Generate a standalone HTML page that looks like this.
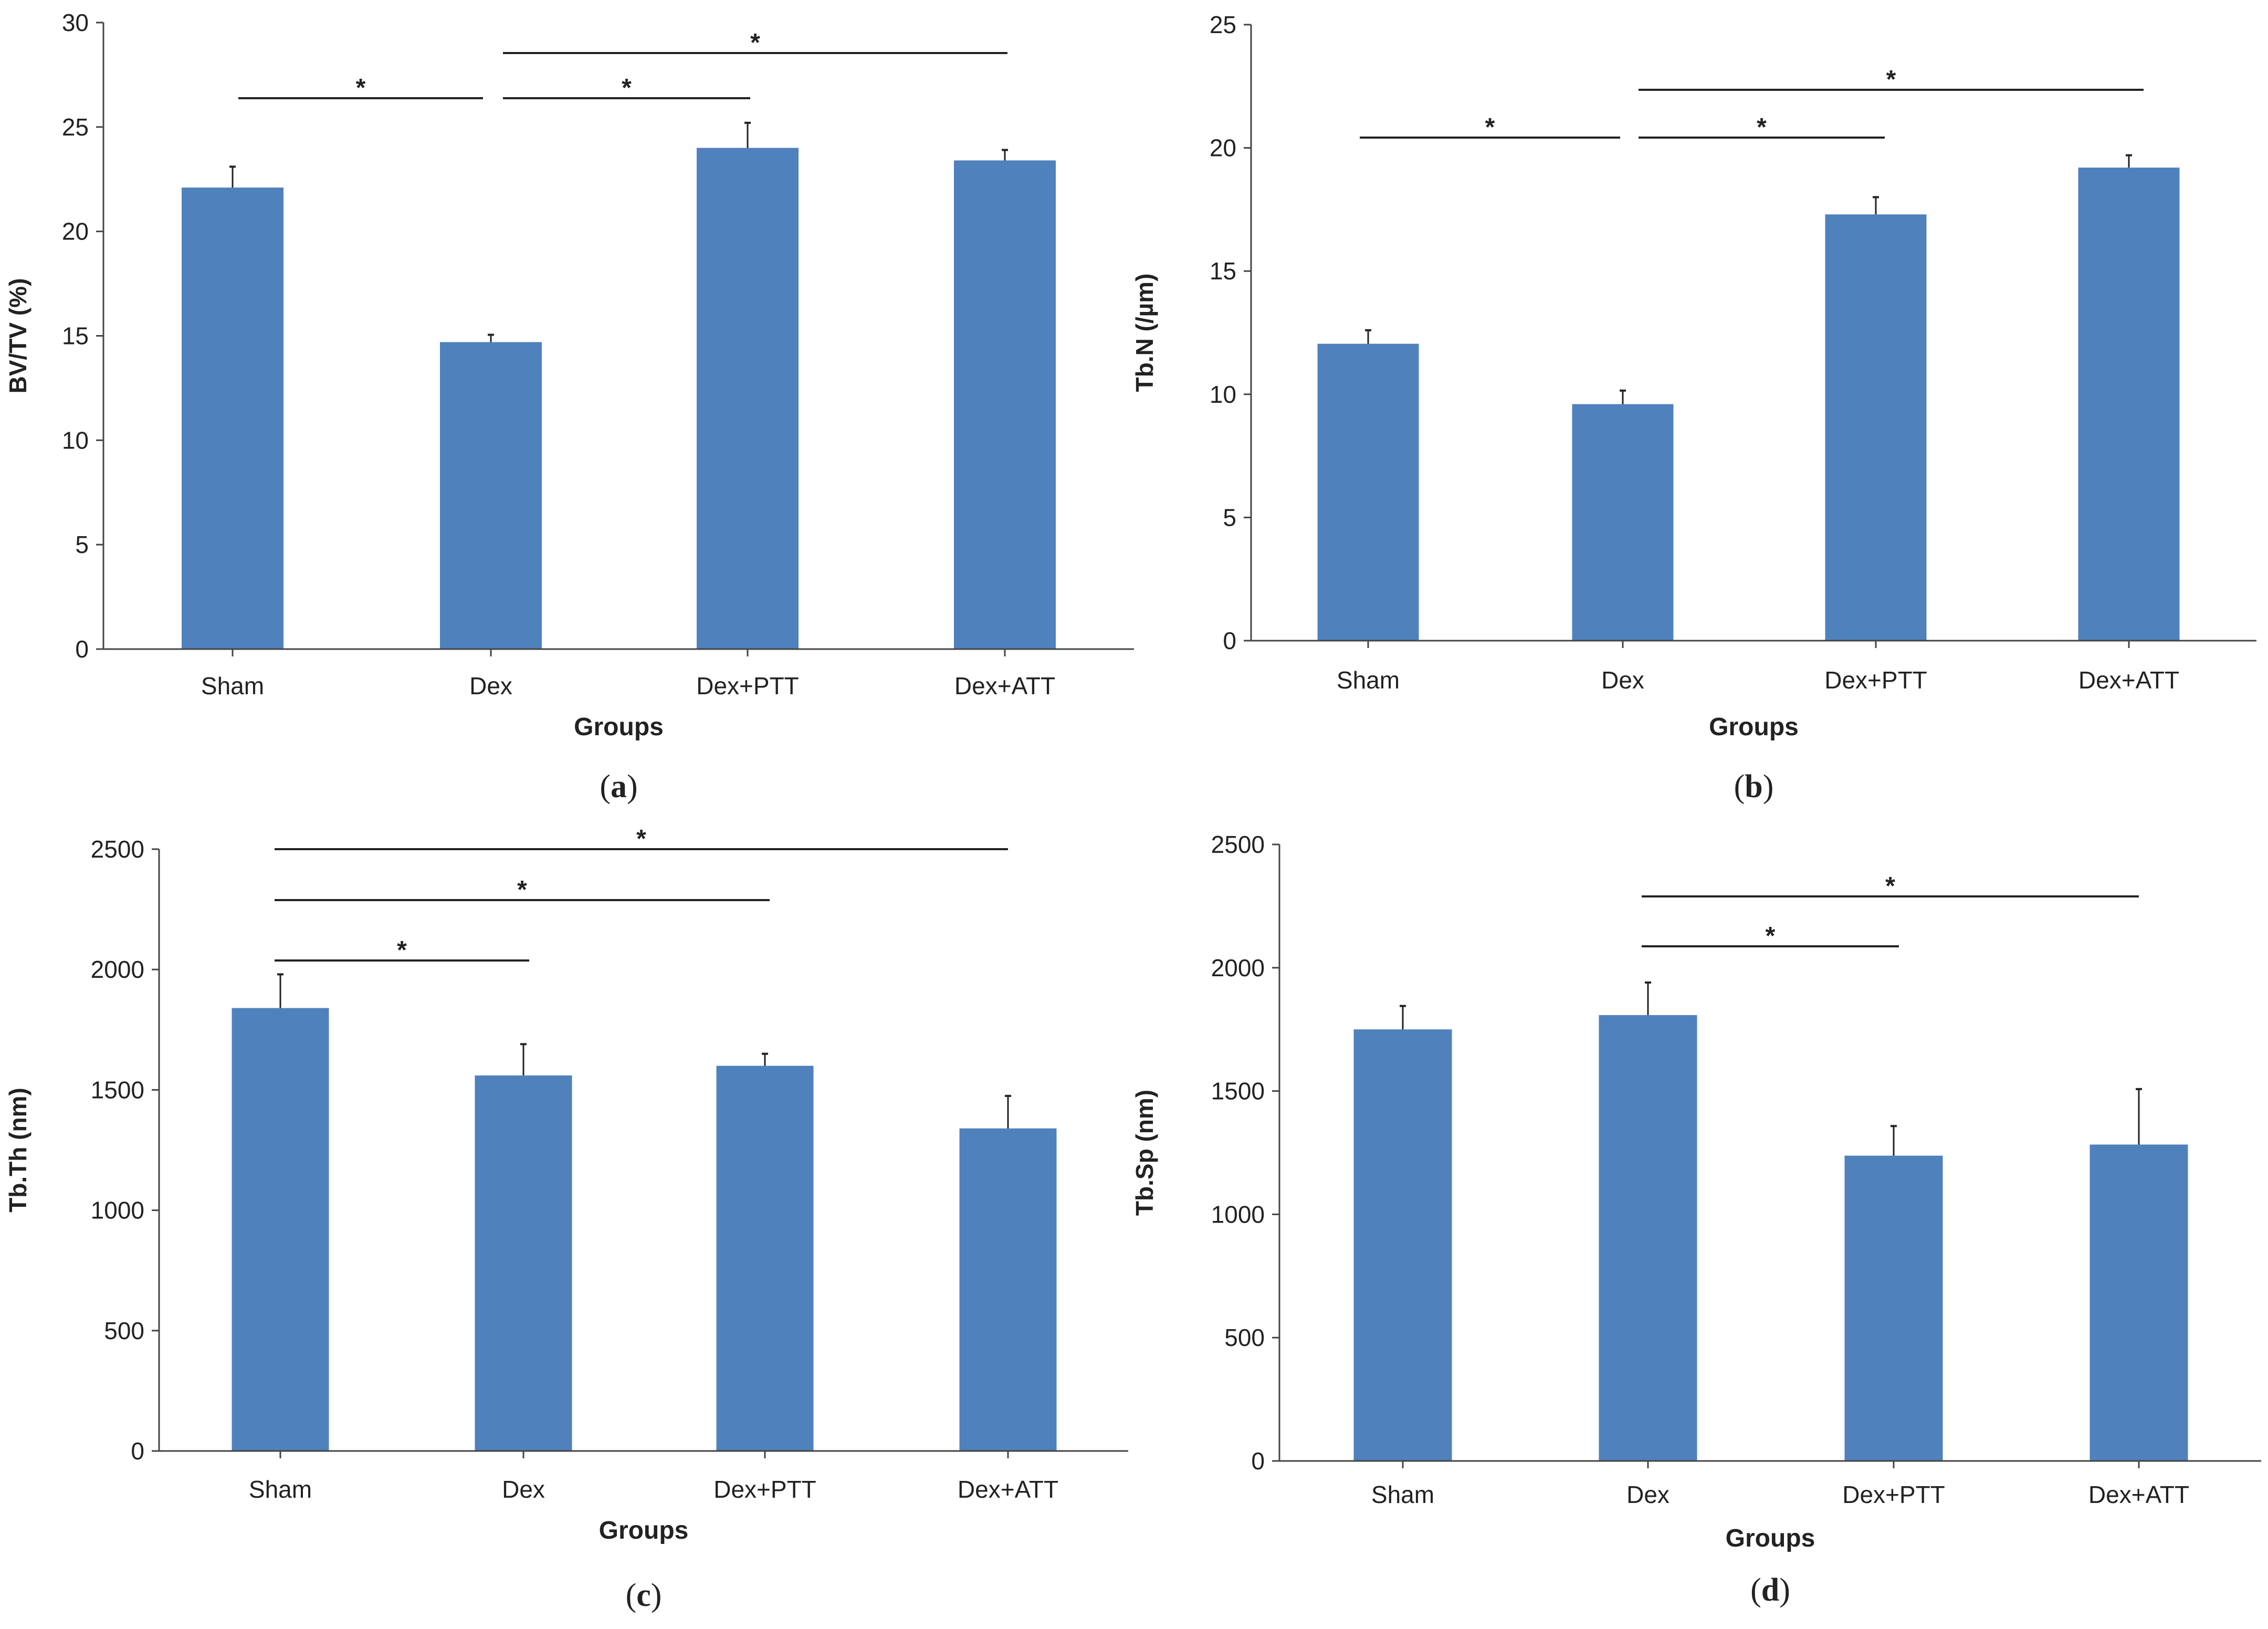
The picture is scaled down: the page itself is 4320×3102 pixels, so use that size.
<!DOCTYPE html>
<html><head><meta charset="utf-8"><style>
html,body{margin:0;padding:0;background:#fff}
svg{display:block}
text{font-family:"Liberation Sans",sans-serif;fill:#222}
</style></head><body>
<svg id="fig" width="4320" height="3102" viewBox="0 0 4320 3102"></svg>
<script>
const categories = ["Sham","Dex","Dex+PTT","Dex+ATT"];
const aValues = [22.1,14.7,24.0,23.4];
const aErrors = [1.0,0.35,1.2,0.5];
const aTicks = [0,5,10,15,20,25,30];
const bValues = [12.05,9.6,17.3,19.2];
const bErrors = [0.55,0.55,0.7,0.5];
const bTicks = [0,5,10,15,20,25];
const cValues = [1840,1560,1600,1340];
const cErrors = [140,130,50,135];
const cTicks = [0,500,1000,1500,2000,2500];
const dValues = [1750,1808,1238,1283];
const dErrors = [95,132,120,225];
const dTicks = [0,500,1000,1500,2000,2500];
const aSig = [[0,1,187],[1,2,187],[1,3,101]];
const bSig = [[0,1,262],[1,2,262],[1,3,171]];
const cSig = [[0,1,1829],[0,2,1714],[0,3,1617]];
const dSig = [[1,2,1802],[1,3,1707]];

const NS="http://www.w3.org/2000/svg";
const svg=document.getElementById('fig');
function mk(tag,attrs,parent,txt){const e=document.createElementNS(NS,tag);for(const k in attrs)e.setAttribute(k,attrs[k]);if(txt!==undefined)e.textContent=txt;parent.appendChild(e);return e;}

const panels=[
 {id:'a',vals:aValues,errs:aErrors,ticks:aTicks,sig:aSig,title:'BV/TV (%)',ax:197,xEnd:2160,yTop:43,y0:1236,cx:[443,935,1424,1914],bw:194,titleX:50,labY:1322,grpY:1400,capY:1518,so:[11,23,0,0],eo:[0,-15,5,5]},
 {id:'b',vals:bValues,errs:bErrors,ticks:bTicks,sig:bSig,title:'Tb.N (/µm)',ax:2383,xEnd:4298,yTop:47,y0:1220,cx:[2606,3091,3573,4055],bw:193,titleX:2196,labY:1311,grpY:1400,capY:1518,so:[-16,30,0,0],eo:[0,-5,17,28]},
 {id:'c',vals:cValues,errs:cErrors,ticks:cTicks,sig:cSig,title:'Tb.Th (nm)',ax:303,xEnd:2149,yTop:1617,y0:2763,cx:[534,997,1457,1920],bw:185,titleX:50,labY:2852,grpY:2930,capY:3058,so:[-11,0,0,0],eo:[0,11,9,0]},
 {id:'d',vals:dValues,errs:dErrors,ticks:dTicks,sig:dSig,title:'Tb.Sp (nm)',ax:2437,xEnd:4307,yTop:1608,y0:2782,cx:[2672,3139,3607,4074],bw:187,titleX:2196,labY:2862,grpY:2945,capY:3048,so:[0,-12,0,0],eo:[0,0,10,0]}
];

panels.forEach(p=>{
 const g=mk('g',{},svg);
 
 
 const max=p.ticks[p.ticks.length-1];
 const y=v=>p.y0-(v/max)*(p.y0-p.yTop);
 const ya=mk('line',{x1:p.ax,y1:p.yTop,x2:p.ax,y2:p.y0,stroke:'#444','stroke-width':3},g);
 
 
 p.ticks.forEach(t=>{
  mk('line',{x1:p.ax-14,y1:y(t),x2:p.ax,y2:y(t),stroke:'#444','stroke-width':3},g);
  const tl=mk('text',{x:p.ax-28,y:y(t)+16,'text-anchor':'end','font-size':46},g,String(t));
  
  
 });
 p.vals.forEach((v,i)=>{
  const cx=p.cx[i];
  const b=mk('rect',{x:cx-p.bw/2,y:y(v),width:p.bw,height:p.y0-y(v),fill:'#4f81bd'},g);
  
  
  const top=y(v+p.errs[i]);
  const e=mk('line',{x1:cx,y1:y(v),x2:cx,y2:top,stroke:'#222','stroke-width':3},g);
  
  
  mk('line',{x1:cx-6,y1:top,x2:cx+6,y2:top,stroke:'#222','stroke-width':4},g);
  const cl=mk('text',{x:cx,y:p.labY,'text-anchor':'middle','font-size':46},g,categories[i]);
  
  
 });
 const xa=mk('line',{x1:p.ax-14,y1:p.y0,x2:p.xEnd,y2:p.y0,stroke:'#444','stroke-width':3},g);
 
 
 p.cx.forEach(cx=>mk('line',{x1:cx,y1:p.y0,x2:cx,y2:p.y0+14,stroke:'#444','stroke-width':3},g));
 p.sig.forEach(s=>{
  const x1=p.cx[s[0]]+p.so[s[0]],x2=p.cx[s[1]]+p.eo[s[1]];
  const l=mk('line',{x1:x1,y1:s[2],x2:x2,y2:s[2],stroke:'#222','stroke-width':4},g);
  
  
  const st=mk('text',{x:(x1+x2)/2,y:s[2]-4,'text-anchor':'middle','font-size':48,'font-weight':'bold'},g,'*');
  
  
 });
 const gt=mk('text',{x:(p.ax+p.xEnd)/2,y:p.grpY,'text-anchor':'middle','font-size':48,'font-weight':'bold'},g,'Groups');
 
 
 const yt=mk('text',{x:p.titleX,y:(p.yTop+p.y0)/2,'text-anchor':'middle','font-size':46,'font-weight':'bold',transform:'rotate(-90 '+p.titleX+' '+(p.yTop+p.y0)/2+')'},g,p.title);
 
 
 const cap=mk('text',{x:(p.ax+p.xEnd)/2,y:p.capY,'text-anchor':'middle','font-size':62,style:'font-family:"Liberation Serif",serif'},g,'');
 
 
 mk('tspan',{},cap,'(');
 mk('tspan',{'font-weight':'bold'},cap,p.id);
 mk('tspan',{},cap,')');
});
</script>
</body></html>
